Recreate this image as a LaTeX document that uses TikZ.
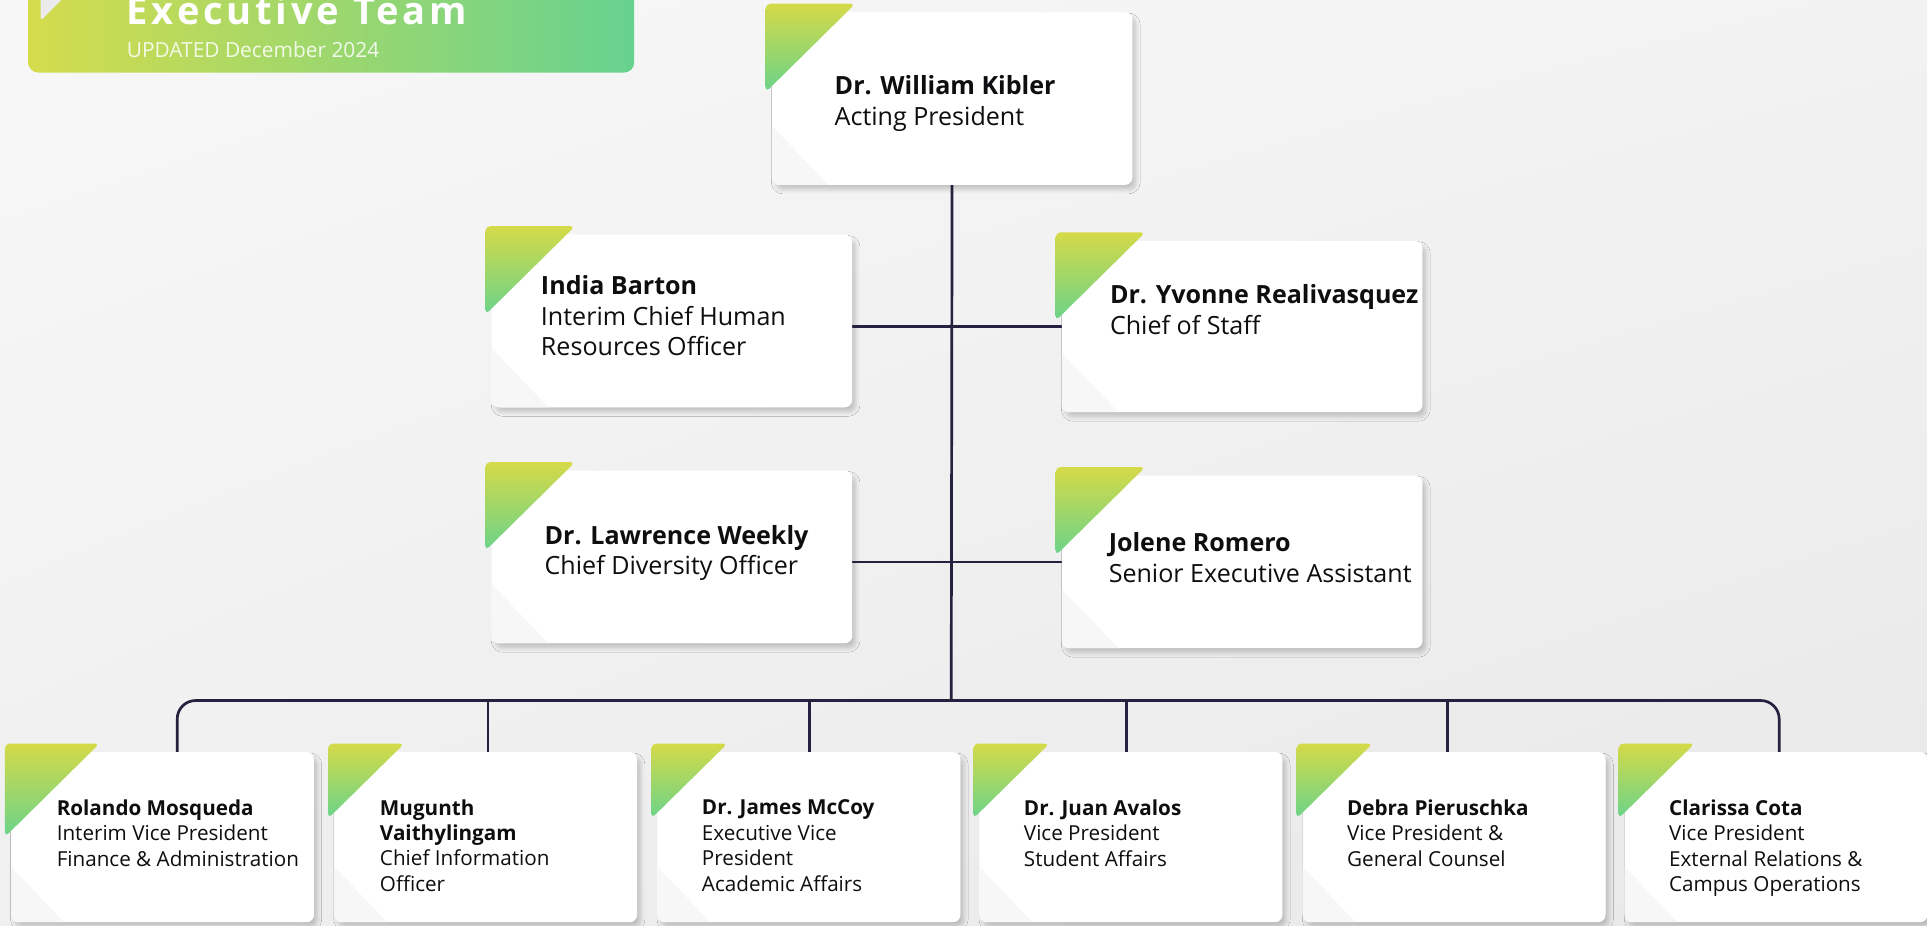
\documentclass[tikz,border=0pt]{standalone}
\usepackage{fontspec}
\setmainfont{Open Sans}
\newfontfamily\titlefont[LetterSpace=10]{Open Sans}
\usetikzlibrary{shadows.blur,calc,shadings}
\definecolor{gTop}{HTML}{D5DA48}
\definecolor{gBot}{HTML}{6AD38A}
\definecolor{bnL}{HTML}{D4DC4C}
\definecolor{bnR}{HTML}{66D28F}
\definecolor{connc}{HTML}{25223F}
\definecolor{txt}{HTML}{0E0E10}
\tikzset{
  card/.style={fill=white, rounded corners=6pt, inner sep=0pt, anchor=north west,
    blur shadow={shadow xshift=3pt, shadow yshift=-4pt, shadow blur radius=3.5pt, shadow blur steps=8, shadow opacity=20}},
  topcard/.style={card, minimum width=293pt, minimum height=140pt},
  botcard/.style={card, minimum width=246pt, minimum height=138pt},
  connl/.style={draw=connc, line width=2.2pt},
  toptext/.style={anchor=west, inner sep=0pt, align=left, text=txt, font=\fontsize{20.4}{25}\selectfont},
  bottext/.style={anchor=west, inner sep=0pt, align=left, text=txt, font=\fontsize{16.8}{20.7}\selectfont},
  cornerfill/.style={fill=black!3},
  greentri/.style={top color=gTop, bottom color=gBot, rounded corners=4pt}
}
\newcommand\cornershade[3]{%
  \begin{scope}
    \clip[rounded corners=6pt] (#1.north west) rectangle (#1.south east);
    \fill[cornerfill] (#1.south west) -- ++(0,-#2) -- ($(#1.south west)+(#3,0)$) -- cycle;
  \end{scope}}
\newcommand\greencorner[3]{%
  \shade[greentri] (#1) -- ++(#2,0) -- ++(-#2,#3) -- cycle;}
\begin{document}
\begin{tikzpicture}[x=1pt,y=-1pt]
\useasboundingbox (0,0) rectangle (1568,752.7);
% background
\shade[upper left=white!97!black, upper right=white!95!black, lower left=white!94!black, lower right=white!91!black] (0,0) rectangle (1568,752.7);

% banner
\shade[left color=bnL, right color=bnR, rounded corners=8pt] (23,-30) rectangle (516,59);
\begin{scope}
  \clip (23,0) rectangle (516,59);
  \fill[white!92!black, rounded corners=3pt] (33,-60) -- (33,17) -- (110,-60) -- cycle;
\end{scope}
\node[anchor=base west, inner sep=0pt, text=white, font=\titlefont\bfseries\fontsize{31}{32}\selectfont] (title) at (103,20) {Executive Team};
\node[anchor=base west, inner sep=0pt, text=white, opacity=.85, font=\fontsize{17}{19}\selectfont] (upd) at (103,47) {UPDATED December 2024};

% cards (positions)
\node[topcard] (pres) at (628,10) {};
\node[topcard] (hr) at (400,191) {};
\node[topcard, minimum height=139pt] (cos) at (864,196) {};
\node[topcard] (cdo) at (400,383) {};
\node[topcard] (sea) at (864,387) {};
\node[botcard] (r1) at (9,612) {};
\node[botcard] (r2) at (272,612) {};
\node[botcard] (r3) at (535,612) {};
\node[botcard] (r4) at (797,612) {};
\node[botcard] (r5) at (1060,612) {};
\node[botcard] (r6) at (1322,612) {};

% connectors
\coordinate (hub) at (774,570);
\coordinate (d1) at ($(r1.north)+(12,0)$);
\coordinate (d2) at ($(r2.north)+(2,0)$);
\coordinate (d3) at ($(r3.north)+(0.5,0)$);
\coordinate (d4) at ($(r4.north)+(-3.5,0)$);
\coordinate (d5) at ($(r5.north)+(-5.5,0)$);
\coordinate (d6) at ($(r6.north)+(2.5,0)$);
\coordinate (busR) at (d6 |- hub);
\draw[connl] (pres.south) -- (hub);
\draw[connl] (hr.east |- cos.west) -- (cos.west);
\draw[connl] (cdo.east |- sea.west) -- (sea.west);
\draw[connl, rounded corners=15pt] (d1) |- (busR) -- (d6);
\draw[connl] (d2) -- (d2 |- hub);
\draw[connl] (d3) -- (d3 |- hub);
\draw[connl] (d4) -- (d4 |- hub);
\draw[connl] (d5) -- (d5 |- hub);

% redraw card faces above connectors
\foreach \n in {pres,hr,cos,cdo,sea,r1,r2,r3,r4,r5,r6}{
  \fill[white, rounded corners=6pt] (\n.north west) rectangle (\n.south east);
}
\foreach \n in {pres,hr,cos,cdo,sea}{\cornershade{\n}{48}{46}}
\foreach \n in {r1,r2,r3,r4,r5,r6}{\cornershade{\n}{45}{43}}

% green corners
\greencorner{623,3}{73}{72}
\greencorner{395,184}{73}{72}
\greencorner{859,189}{73}{72}
\greencorner{395,376}{73}{72}
\greencorner{859,380}{73}{72}
\greencorner{4,605}{77}{76}
\greencorner{267,605}{62}{61}
\greencorner{530,605}{62}{61}
\greencorner{792,605}{62}{61}
\greencorner{1055,605}{62}{61}
\greencorner{1317,605}{62}{61}

% texts
\node[toptext] (tpres) at (679,84) {\textbf{Dr. William Kibler}\\Acting President};
\node[toptext] (thr) at (440,257) {\textbf{India Barton}\\Interim Chief Human\\Resources Officer};
\node[toptext] (tcos) at (903,252) {\textbf{Dr. Yvonne Realivasquez}\\Chief of Staff};
\node[toptext] (tcdo) at (443,450) {\textbf{Dr. Lawrence Weekly}\\Chief Diversity Officer};
\node[toptext] (tsea) at (902,454) {\textbf{Jolene Romero}\\Senior Executive Assistant};
\node[bottext] (tr1) at (46,678) {\textbf{Rolando Mosqueda}\\Interim Vice President\\Finance \& Administration};
\node[bottext] (tr2) at (309,688) {\textbf{Mugunth}\\\textbf{Vaithylingam}\\Chief Information\\Officer};
\node[bottext] (tr3) at (571,688) {\textbf{Dr. James McCoy}\\Executive Vice\\President\\Academic Affairs};
\node[bottext] (tr4) at (833,678) {\textbf{Dr. Juan Avalos}\\Vice President\\Student Affairs};
\node[bottext] (tr5) at (1096,678) {\textbf{Debra Pieruschka}\\Vice President \&\\General Counsel};
\node[bottext] (tr6) at (1358,690) {\textbf{Clarissa Cota}\\Vice President\\External Relations \&\\Campus Operations};
\end{tikzpicture}
\end{document}
